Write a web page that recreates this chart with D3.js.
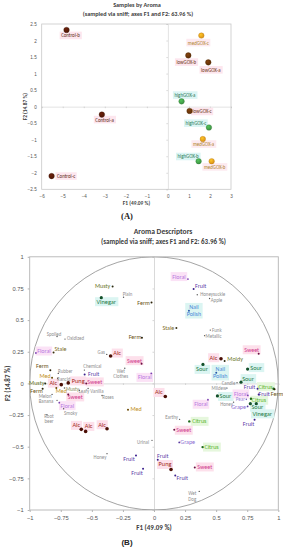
<!DOCTYPE html>
<html><head><meta charset="utf-8">
<script src="https://cdn.jsdelivr.net/npm/d3@7"></script>
<style>body{margin:0;background:#fff}svg{display:block;font-family:Carlito,Lato,"Liberation Sans",sans-serif}</style>
</head><body><svg id="c" width="283" height="550"></svg>
<script>
// ---------- Chart A data ----------
const sampleNames = ["Control-b","medGOX-c","lowGOX-b","lowGOX-a","highGOX-a","lowGOX-c","Control-a","highGOX-c","medGOX-a","highGOX-b","medGOX-b","Control-c"];
const sampleGroup = ["Control","medGOX","lowGOX","lowGOX","highGOX","lowGOX","Control","highGOX","medGOX","highGOX","medGOX","Control"];
const sampleF1 = [-4.82,1.59,0.97,1.92,0.65,1.03,-3.14,1.95,1.66,1.46,2.08,-5.53];
const sampleF2 = [2.32,2.15,1.55,1.34,0.16,-0.13,-0.24,-0.63,-0.98,-1.65,-1.65,-2.10];
const ticksAx = [-6,-5,-4,-3,-2,-1,0,1,2,3];
const ticksAy = [-2.5,-2,-1.5,-1,-0.5,0,0.5,1,1.5,2,2.5];
// label layout (pixels, text centre relative to point)
const sampleLabelOffset = [[4,5.5],[-3,7],[-2,6.7],[2.5,7.5],[3.3,-6.3],[12.5,0.5],[2.7,5],[-13,-4.3],[0.7,5],[-10.5,-4.7],[3,5.7],[14.5,0]];

// ---------- Chart B data ----------
const descLabels = ["Musty","Vinegar","Plain","Ferm","Floral","Fruit","Honeysuckle","Apple","Nail Polish","Stale","Funk","Metallic",
 "Spoiled","Oxidized","Ferm","Floral","Stale","Gas","Alc","Ferm","Rubber","Chemical","Fruit","Wet Clothes","Med","Rancid",
 "Musty","Alc","Pung","Ferm","Med","Musty","Sweet","Vanilla","Leafy","Sweet","Roses","Melon","Banana","Floral","Smoky","Root beer",
 "Med","Alc","Alc","Alc","Honey","Fruit","Urinal","Floral","Earthy","Citrus","Sweet","Grape","Citrus","Fruit","Pung","Sweet",
 "Fruit","Fruit","Wet Dog","Sweet","Alc","Moldy","Sour","Sour","Nail Polish","Sour","Candle","Fruit","Citrus","Ferm","Mildew",
 "Sour","Floral","Fruit","Citrus","Pear","Sour","Vinegar","Honey","Grape","Fruit","Sweet","Floral","Alc"];
const descF1 = [-0.333,-0.424,-0.245,-0.02,0.273,0.319,0.348,0.447,0.281,0.18,0.453,0.407,
 -0.78,-0.716,-0.097,-0.95,-0.808,-0.38,-0.349,-0.834,-0.77,-0.56,-0.558,-0.235,-0.82,-0.775,
 -0.875,-0.746,-0.69,-0.896,-0.786,-0.72,-0.545,-0.53,-0.6,-0.69,-0.418,-0.82,-0.78,-0.762,-0.727,-0.861,
 -0.209,-0.585,-0.55,-0.378,-0.378,-0.145,-0.016,0.434,0.206,0.284,0.163,0.203,0.391,0.03,0.137,0.328,
 -0.088,0.171,0.364,0.842,0.539,0.568,0.394,0.753,0.501,0.7,0.668,0.833,0.962,0.97,0.587,
 0.51,0.755,0.842,0.78,0.743,0.775,0.823,0.64,0.753,0.809,-0.1,-0.022,0.091];
const descF2 = [0.766,0.677,0.68,0.64,0.824,0.745,0.70,0.671,0.574,0.437,0.421,0.377,
 0.37,0.35,0.36,0.24,0.245,0.229,0.216,0.103,0.079,0.105,0.071,0.12,0.045,0.04,
 0.0,-0.01,0.004,-0.043,-0.036,-0.036,0.0,-0.04,-0.055,-0.087,-0.095,-0.087,-0.134,-0.152,-0.2,-0.247,
 -0.208,-0.363,-0.379,-0.358,-0.555,-0.569,-0.45,-0.129,-0.284,-0.3,-0.366,-0.466,-0.503,-0.603,-0.68,-0.664,
 -0.674,-0.727,-0.853,0.234,0.195,0.176,0.15,0.113,0.085,0.01,0.005,-0.042,-0.042,-0.047,-0.037,
 -0.099,-0.095,-0.087,-0.121,-0.126,-0.16,-0.16,-0.148,-0.182,-0.287,0.156,0.079,-0.103];
const descGroup = ["musty","sour","minor","ferm","floral","fruit","minor","minor","nail","stale","minor","minor",
 "minor","minor","ferm","floral","stale","minor","alc","ferm","minor","minor","fruit","minor","med","minor",
 "musty","alc","alc","ferm","med","mustyMinor","sweet","minor","minor","sweet","minor","minor","minor","floral","minor","minor",
 "med","alc","alc","alc","minor","fruit","minor","floral","minor","citrus","sweet","grape","citrus","fruit","alc","sweet",
 "fruit","fruit","minor","sweet","alc","musty","sour","sour","nail","sour","minor","fruit","citrus","ferm","minor",
 "sour","floral","fruit","citrus","grapeMinor","sour","sour","minor","grape","fruit","sweet","floral","alc"];
const ticksB = [-1,-0.75,-0.5,-0.25,0,0.25,0.5,0.75,1];
// label layout (pixels, text centre relative to point)
const descLabelOffset = [[-10,0],[5,4],[4,-3.5],[-8,1],[-9,-2.5],[7,-3.5],[15.5,-0.5],[7,1.5],[5,0],[-8,-0.5],[6.5,0],[9,0.5],
 [-3,-3],[10.5,-1],[-7,-1],[8,-2],[7,-3],[-5.5,-2],[6.5,-3],[-8,-4],[7,-2],[8,-4],[9,0],[-4,5.5],[-7,-2],[6,0.5],
 [-8.5,-0.5],[-8,-1.5],[10,-2],[-6,2],[5,3],[8,1],[8.5,-1.5],[8.8,2.5],[4.5,0.3],[7,2.5],[6,2],[-7,2],[-11,1],[8,3],[7,4],[2,4],
 [8,-0.5],[-5,-4],[3,-5],[-5,-4],[-7,3],[-7,4],[-9,2],[-7,4.5],[-8,-2],[10,0],[9.5,0.5],[8.5,0],[9,0],[5,-4],[-6,-5],[10,-0.5],
 [-6,4.5],[7,2.5],[-7,4.5],[-7,-4],[-7.5,-1],[10.5,-2.5],[-1,5],[8.5,-1.5],[4,0],[7,-3.5],[-8.5,0],[-8,-2],[-8,-2],[2.5,5],[-8,0],
 [8,0.5],[-7,-1.5],[5.5,-0.5],[8,1.5],[-6,0],[7,3.5],[6,10.2],[-7,1.5],[-9,0.5],[-6,4],[-7,-3],[-6.5,4],[-6.5,-4]];

// ---------- styles ----------
const sampleStyle = {
  Control:{pt:"#4e1707",txt:"#5b2614",bg:"#fde6ee"},
  lowGOX:{pt:"#5e3009",txt:"#6b3512",bg:"#fde6ee"},
  medGOX:{pt:"#d68f1a",txt:"#b0852a",bg:"#fdeaf0"},
  highGOX:{pt:"#3c8f42",txt:"#2d7a58",bg:"#dcf5f4"}
};
const descStyle = {
  alc:{txt:"#a32a18",pt:"#4a0e04",bg:"#fde0eb",fs:6.3,r:1.8},
  sweet:{txt:"#cf3a8c",pt:"#6a1040",bg:"#fde0eb",fs:6,r:1},
  floral:{txt:"#b577df",pt:"#7a40b0",bg:"#fbe2f6",fs:6,r:0.9},
  fruit:{txt:"#5a39a6",pt:"#3a1f8c",bg:null,fs:6,r:1},
  grape:{txt:"#8a6bd1",pt:"#5a3aa0",bg:null,fs:6,r:0.9},
  grapeMinor:{txt:"#a08ad8",pt:"#7a60c0",bg:null,fs:5,r:0.8},
  sour:{txt:"#1f7a45",pt:"#13502a",bg:"#dbf5f2",fs:6.3,r:1.6},
  citrus:{txt:"#58b52a",pt:"#1f6a1a",bg:"#e6f7dd",fs:6,r:1.2},
  nail:{txt:"#4a88d8",pt:"#2a58a8",bg:"#dbf5f2",fs:6,r:1},
  musty:{txt:"#6a7629",pt:"#2a2a10",bg:null,fs:6,r:1},
  mustyMinor:{txt:"#8d8d62",pt:"#555",bg:null,fs:5.2,r:0.8},
  ferm:{txt:"#6a5214",pt:"#2a2005",bg:null,fs:6,r:1},
  med:{txt:"#bf8f1b",pt:"#6a4a05",bg:null,fs:6,r:1},
  stale:{txt:"#7d6b2a",pt:"#3a3010",bg:null,fs:6,r:1},
  minor:{txt:"#8e8e8e",pt:"#555",bg:null,fs:4.9,r:0.7}
};

const svg = d3.select("#c");

// ================= Chart A =================
const xA = d3.scaleLinear().domain([-6,3]).range([41.7,231]);
const yA = d3.scaleLinear().domain([-2.5,2.5]).range([189.3,24]);
const gA = svg.append("g");
gA.append("text").attr("x",137).attr("y",7).attr("text-anchor","middle").attr("font-size",6.2).attr("font-weight","bold").attr("fill","#404040").text("Samples by Aroma");
gA.append("text").attr("x",138).attr("y",16).attr("text-anchor","middle").attr("font-size",6.2).attr("font-weight","bold").attr("fill","#404040").text("(sampled via sniff; axes F1 and F2: 63.96 %)");
gA.append("rect").attr("x",xA(-6)).attr("y",yA(2.5)).attr("width",xA(3)-xA(-6)).attr("height",yA(-2.5)-yA(2.5)).attr("fill","none").attr("stroke","#c8c8c8").attr("stroke-width",0.8);
gA.append("g").attr("transform",`translate(0,${yA(0)})`).call(d3.axisBottom(xA).tickValues(ticksAx).tickSize(1.5).tickFormat(""))
  .call(g=>{g.select(".domain").attr("stroke","#d0d0d0").attr("stroke-width",0.6);g.selectAll(".tick line").attr("stroke","#c0c0c0").attr("stroke-width",0.6);});
gA.append("g").attr("transform",`translate(${xA(0)},0)`).call(d3.axisLeft(yA).tickValues(ticksAy).tickSize(1.5).tickFormat(""))
  .call(g=>{g.select(".domain").attr("stroke","#d0d0d0").attr("stroke-width",0.6);g.selectAll(".tick line").attr("stroke","#c0c0c0").attr("stroke-width",0.6);});
gA.append("g").attr("transform",`translate(0,${yA(-2.5)})`).call(d3.axisBottom(xA).tickValues(ticksAx).tickSize(0).tickPadding(5).tickFormat(d3.format("")))
  .call(g=>{g.select(".domain").remove();g.selectAll("text").attr("font-size",4.6).attr("fill","#555").attr("font-family",null);});
gA.append("g").attr("transform",`translate(${xA(-6)},0)`).call(d3.axisLeft(yA).tickValues(ticksAy).tickSize(0).tickPadding(5).tickFormat(d3.format("")))
  .call(g=>{g.select(".domain").remove();g.selectAll("text").attr("font-size",4.6).attr("fill","#555").attr("font-family",null);});
gA.append("text").attr("x",136.5).attr("y",204.5).attr("text-anchor","middle").attr("font-size",5.4).attr("font-weight","bold").attr("fill","#404040").text("F1 (49.09 %)");
gA.append("text").attr("transform",`translate(27,${(yA(2.5)+yA(-2.5))/2}) rotate(-90)`).attr("text-anchor","middle").attr("font-size",5.4).attr("font-weight","bold").attr("fill","#404040").text("F2 (14.87 %)");
gA.append("text").attr("x",127).attr("y",219).attr("text-anchor","middle").attr("font-size",8.5).attr("font-weight","bold").attr("font-family","'Liberation Serif',serif").attr("fill","#222").text("(A)");

const defs = svg.append("defs");
Object.entries(sampleStyle).forEach(([k,s])=>{
  const gr = defs.append("radialGradient").attr("id","g"+k).attr("cx","40%").attr("cy","35%").attr("r","65%");
  gr.append("stop").attr("offset","0%").attr("stop-color",d3.color(s.pt).brighter(0.9));
  gr.append("stop").attr("offset","100%").attr("stop-color",s.pt);
});
const samples = sampleNames.map((n,i)=>({n,g:sampleGroup[i],x:sampleF1[i],y:sampleF2[i],o:sampleLabelOffset[i]}));
const sl = gA.append("g");
samples.forEach(d=>{
  const t = sl.append("text").attr("x",xA(d.x)+d.o[0]).attr("y",yA(d.y)+d.o[1]).attr("text-anchor","middle").attr("dominant-baseline","central")
    .attr("font-size",4.9).attr("fill",sampleStyle[d.g].txt).text(d.n);
  const b = t.node().getBBox();
  sl.insert("rect","text").attr("x",b.x-1.5).attr("y",b.y-0.8).attr("width",b.width+3).attr("height",b.height+1.6).attr("fill",sampleStyle[d.g].bg);
});
gA.append("g").selectAll("circle").data(samples).join("circle")
  .attr("cx",d=>xA(d.x)).attr("cy",d=>yA(d.y)).attr("r",2.8).attr("fill",d=>`url(#g${d.g})`).attr("stroke",d=>d3.color(sampleStyle[d.g].pt).darker(0.5)).attr("stroke-width",0.3);

// ================= Chart B =================
const xB = d3.scaleLinear().domain([-1,1]).range([29.7,278.3]);
const yB = d3.scaleLinear().domain([-1,1]).range([510,256.8]);
const gB = svg.append("g");
gB.append("text").attr("x",163).attr("y",233.5).attr("text-anchor","middle").attr("font-size",7.6).attr("font-weight","bold").attr("fill","#404040").text("Aroma Descriptors");
gB.append("text").attr("x",163.5).attr("y",243.8).attr("text-anchor","middle").attr("font-size",7).attr("font-weight","bold").attr("fill","#404040").text("(sampled via sniff; axes F1 and F2: 63.96 %)");
defs.append("clipPath").attr("id","clipB").append("rect").attr("x",xB(-1)).attr("y",yB(1)).attr("width",xB(1)-xB(-1)).attr("height",yB(-1)-yB(1));
gB.append("rect").attr("x",xB(-1)).attr("y",yB(1)).attr("width",xB(1)-xB(-1)).attr("height",yB(-1)-yB(1)).attr("fill","none").attr("stroke","#b4b4b4").attr("stroke-width",0.9);
gB.append("g").attr("transform",`translate(0,${yB(0)})`).call(d3.axisBottom(xB).tickValues(ticksB).tickSize(1.5).tickFormat(""))
  .call(g=>{g.select(".domain").attr("stroke","#cfcfcf").attr("stroke-width",0.8);g.selectAll(".tick line").attr("stroke","#bbb").attr("stroke-width",0.6);});
gB.append("g").attr("transform",`translate(${xB(0)},0)`).call(d3.axisLeft(yB).tickValues(ticksB).tickSize(1.5).tickFormat(""))
  .call(g=>{g.select(".domain").attr("stroke","#cfcfcf").attr("stroke-width",0.8);g.selectAll(".tick line").attr("stroke","#bbb").attr("stroke-width",0.6);});
gB.append("ellipse").attr("clip-path","url(#clipB)").attr("cx",xB(0)).attr("cy",yB(0)).attr("rx",xB(1)-xB(0)).attr("ry",yB(0)-yB(1))
  .attr("fill","none").attr("stroke","#9a9a9a").attr("stroke-width",0.9);
gB.append("g").attr("transform",`translate(0,${yB(-1)})`).call(d3.axisBottom(xB).tickValues(ticksB).tickSize(2).tickPadding(4).tickFormat(d3.format("")))
  .call(g=>{g.select(".domain").remove();g.selectAll(".tick line").attr("stroke","#b4b4b4");g.selectAll("text").attr("font-size",5.8).attr("fill","#555").attr("font-family",null);});
gB.append("g").attr("transform",`translate(${xB(-1)},0)`).call(d3.axisLeft(yB).tickValues(ticksB).tickSize(2).tickPadding(4).tickFormat(d3.format("")))
  .call(g=>{g.select(".domain").remove();g.selectAll(".tick line").attr("stroke","#b4b4b4");g.selectAll("text").attr("font-size",5.8).attr("fill","#555").attr("font-family",null);});
gB.append("text").attr("x",154).attr("y",529.5).attr("text-anchor","middle").attr("font-size",7).attr("font-weight","bold").attr("fill","#404040").text("F1 (49.09 %)");
gB.append("text").attr("transform",`translate(9.5,${yB(0)}) rotate(-90)`).attr("text-anchor","middle").attr("font-size",7).attr("font-weight","bold").attr("fill","#404040").text("F2 (14.87 %)");
gB.append("text").attr("x",127).attr("y",545).attr("text-anchor","middle").attr("font-size",8).attr("font-weight","bold").attr("font-family","'Liberation Sans',sans-serif").attr("fill","#222").text("(B)");

const desc = descLabels.map((n,i)=>({n,g:descGroup[i],x:descF1[i],y:descF2[i],o:descLabelOffset[i]}));
const bgL = gB.append("g"), txL = gB.append("g"), ptL = gB.append("g");
desc.forEach(d=>{
  const s = descStyle[d.g];
  const cx = xB(d.x)+d.o[0], cy = yB(d.y)+d.o[1];
  const t = txL.append("text").attr("x",cx).attr("y",cy).attr("text-anchor","middle").attr("font-size",s.fs).attr("fill",s.txt);
  const words = d.n.split(" ");
  if (words.length===2) {
    t.append("tspan").attr("x",cx).attr("y",cy-s.fs*0.55).attr("dominant-baseline","central").text(words[0]);
    t.append("tspan").attr("x",cx).attr("y",cy+s.fs*0.55).attr("dominant-baseline","central").text(words[1]);
  } else {
    t.attr("dominant-baseline","central").text(d.n);
  }
  if (s.bg) {
    const b = t.node().getBBox();
    bgL.append("rect").attr("x",b.x-1.5).attr("y",b.y-0.5).attr("width",b.width+3).attr("height",b.height+1).attr("fill",s.bg);
  }
});
ptL.selectAll("circle").data(desc).join("circle").attr("cx",d=>xB(d.x)).attr("cy",d=>yB(d.y)).attr("r",d=>descStyle[d.g].r).attr("fill",d=>descStyle[d.g].pt);
</script></body></html>
